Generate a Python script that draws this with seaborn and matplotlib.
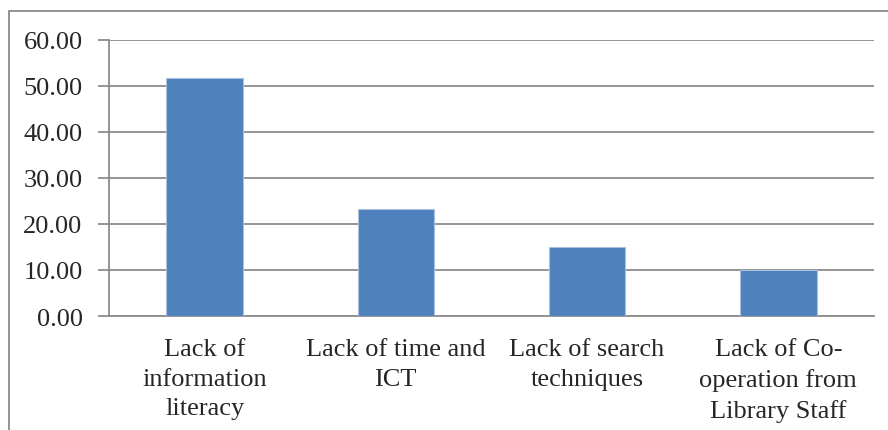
import pandas as pd
import numpy as np
import matplotlib
matplotlib.use("Agg")
import matplotlib.pyplot as plt
import seaborn as sns
from matplotlib.patches import Rectangle

categories = ["Lack of\ninformation\nliteracy", "Lack of time and\nICT",
              "Lack of search\ntechniques", "Lack of Co-\noperation from\nLibrary Staff"]
values = [51.67, 23.33, 15.00, 10.00]
yticks = [0, 10, 20, 30, 40, 50, 60]

df = pd.DataFrame({"problem": categories, "percent": values})

sns.set_style("white")
plt.rcParams["font.family"] = ["Liberation Serif", "DejaVu Serif"]

fig = plt.figure(figsize=(8.88, 4.31), dpi=100)
ax = fig.add_axes([0.1227, 0.2645, 0.8615, 0.6404])

sns.barplot(data=df, x="problem", y="percent", color="#4F81BD", width=0.4,
            edgecolor="#A9C0E0", linewidth=0.8, saturation=1, ax=ax, zorder=3)

grid = "#8C8C8C"
ax.set_ylim(0, 60)
ax.set_yticks(yticks)
ax.set_yticklabels([f"{v:.2f}" for v in yticks], fontsize=19)
ax.set_xlim(-0.5, len(categories) - 0.5)
ax.yaxis.grid(True, color=grid, linewidth=1.3, zorder=0)
ax.set_axisbelow(True)
ax.set_xlabel("")
ax.set_ylabel("")

# category boundary ticks like the original
ax.set_xticks(np.arange(len(categories)))
ax.set_xticklabels(categories, fontsize=19, linespacing=1.44)
ax.tick_params(axis="x", length=0, pad=16)
ax.set_xticks(np.arange(len(categories) + 1) - 0.5, minor=True)
ax.tick_params(axis="x", which="minor", length=8, width=1.3, color=grid, direction="out")
ax.tick_params(axis="y", length=8, width=1.3, color=grid, direction="out", pad=11, left=True)

for s in ["top", "right"]:
    ax.spines[s].set_visible(False)
for s in ["left", "bottom"]:
    ax.spines[s].set_color(grid)
    ax.spines[s].set_linewidth(1.3)

# outer chart frame, cut off at right and bottom
fig.patches.append(Rectangle((9 / 888, -0.1), 1.2, 0.1 + 1 - 12 / 431,
                             transform=fig.transFigure, fill=False,
                             edgecolor="#8A8A8A", linewidth=1.3))

fig.savefig("out.png", dpi=100)
